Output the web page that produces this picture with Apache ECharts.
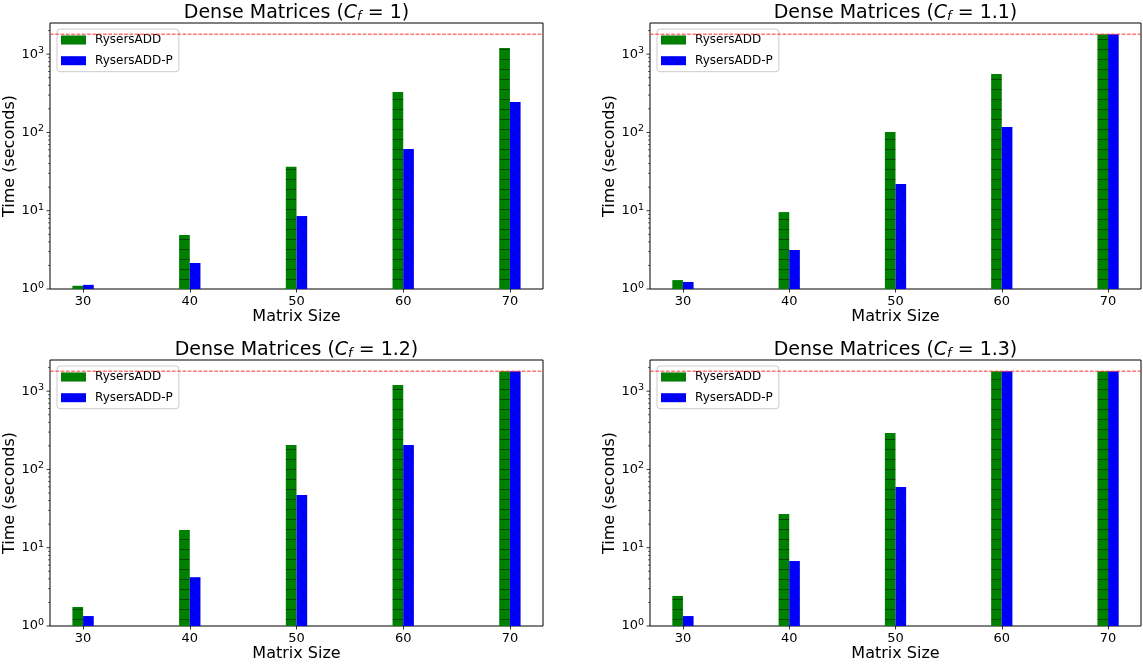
<!DOCTYPE html>
<html>
<head>
<meta charset="utf-8">
<script src="https://cdn.jsdelivr.net/npm/echarts@6/dist/echarts.min.js"></script>
<style>
html,body{margin:0;padding:0;background:#fff;}
#chart{width:1143px;height:665px;}
</style>
</head>
<body>
<div id="chart"></div>
<script>
// ---------------- data ----------------
const xLabels = ['30', '40', '50', '60', '70'];
const cfValues = ['1', '1.1', '1.2', '1.3'];
const seriesNames = ['RysersADD', 'RysersADD-P'];
const rysersAddCf1 = [1.1, 4.9, 36.5, 328, 1197];
const rysersAddPCf1 = [1.13, 2.15, 8.55, 61.4, 244];
const rysersAddCf11 = [1.3, 9.6, 101, 557, 1800];
const rysersAddPCf11 = [1.23, 3.15, 21.9, 117, 1800];
const rysersAddCf12 = [1.75, 16.8, 205, 1197, 1800];
const rysersAddPCf12 = [1.34, 4.2, 47, 205, 1800];
const rysersAddCf13 = [2.42, 26.9, 292, 1800, 1800];
const rysersAddPCf13 = [1.34, 6.76, 59.6, 1800, 1800];
const timeoutSeconds = 1800;
const majorTicks = [1, 10, 100, 1000];
const minorTicks = [2,3,4,5,6,7,8,9,20,30,40,50,60,70,80,90,200,300,400,500,600,700,800,900,2000];

const greenData = [rysersAddCf1, rysersAddCf11, rysersAddCf12, rysersAddCf13];
const blueData = [rysersAddPCf1, rysersAddPCf11, rysersAddPCf12, rysersAddPCf13];

// ---------------- layout / style ----------------
const FONT = 'DejaVu Sans';
const Y_MIN = 1, Y_MAX = 2500;
const X_MIN = -0.31, X_MAX = 4.31;
const panels = [
  {left: 50, top: 23, width: 493, height: 266},
  {left: 650, top: 23, width: 491, height: 266},
  {left: 50, top: 360, width: 493, height: 266},
  {left: 650, top: 360, width: 491, height: 266}
];

function makePattern(kind) {
  const c = document.createElement('canvas');
  const s = 10;
  c.width = s; c.height = s;
  const g = c.getContext('2d');
  if (kind === 'h') {
    g.fillStyle = '#008000';
    g.fillRect(0, 0, s, s);
    g.fillStyle = 'rgba(0,0,0,0.45)';
    g.fillRect(0, 9, s, 1);
  } else {
    g.fillStyle = '#0000ff';
    g.fillRect(0, 0, s, s);
    g.strokeStyle = 'rgba(0,0,40,0.4)';
    g.lineWidth = 0.9;
    g.beginPath();
    g.moveTo(-2, -2); g.lineTo(s + 2, s + 2);
    g.moveTo(-2 - s, -2); g.lineTo(2, s + 2);
    g.moveTo(s - 2, -2); g.lineTo(2 * s + 2, s + 2);
    g.stroke();
  }
  return {image: c, repeat: 'repeat'};
}
const greenPattern = makePattern('h');
const bluePattern = makePattern('d');

const grids = [], xAxes = [], yAxes = [], series = [], titles = [], legends = [];

const tickData = majorTicks.map(v => [X_MIN, v, 1]).concat(minorTicks.map(v => [X_MIN, v, 0]));

panels.forEach((p, i) => {
  const unit = p.width / (X_MAX - X_MIN);
  const innerLeft = p.left + (0 - X_MIN) * unit;
  const innerWidth = 4 * unit;
  grids.push({left: p.left, top: p.top, width: p.width, height: p.height, show: true,
    borderColor: '#000', borderWidth: 1, backgroundColor: 'transparent', containLabel: false});
  grids.push({left: innerLeft, top: p.top, width: innerWidth, height: p.height, show: false, containLabel: false});
  const gw = 2 * i, gn = 2 * i + 1;
  xAxes.push({type: 'value', gridIndex: gw, min: X_MIN, max: X_MAX,
    axisLine: {show: false}, axisTick: {show: false}, axisLabel: {show: false}, splitLine: {show: false},
    name: 'Matrix Size', nameLocation: 'middle', nameGap: 20,
    nameTextStyle: {fontFamily: FONT, fontSize: 16, color: '#000'}});
  xAxes.push({type: 'category', gridIndex: gn, data: xLabels, boundaryGap: false,
    axisLine: {show: false},
    axisTick: {show: true, inside: false, length: 3.5, lineStyle: {color: '#000', width: 0.8}},
    axisLabel: {fontFamily: FONT, fontSize: 13, color: '#000', margin: 6},
    splitLine: {show: false}});
  yAxes.push({type: 'log', logBase: 10, gridIndex: gw, min: Y_MIN, max: Y_MAX,
    axisLine: {show: false}, axisTick: {show: false}, splitLine: {show: false}, minorTick: {show: false},
    axisLabel: {margin: 6, fontFamily: FONT, color: '#000',
      formatter: v => {
        const l = Math.log10(v), e = Math.round(l);
        if (Math.abs(l - e) > 1e-6) return '';
        return '{b|10}{e|' + e + '}';
      },
      rich: {b: {fontFamily: FONT, fontSize: 13, color: '#000'},
             e: {fontFamily: FONT, fontSize: 9.5, color: '#000', padding: [0, 0, 7, 0]}}},
    name: 'Time (seconds)', nameLocation: 'middle', nameGap: 31,
    nameTextStyle: {fontFamily: FONT, fontSize: 16, color: '#000'}});
  yAxes.push({type: 'log', logBase: 10, gridIndex: gn, min: Y_MIN, max: Y_MAX, show: false,
    splitLine: {show: false}});

  series.push({name: seriesNames[0], type: 'bar', xAxisIndex: gn, yAxisIndex: gn,
    data: greenData[i], barWidth: '10%', barGap: '0%', itemStyle: {color: greenPattern}, z: 3});
  series.push({name: seriesNames[1], type: 'bar', xAxisIndex: gn, yAxisIndex: gn,
    data: blueData[i], barWidth: '10%', barGap: '0%', itemStyle: {color: bluePattern}, z: 3});
  series.push({type: 'line', xAxisIndex: gw, yAxisIndex: gw, silent: true, z: 5,
    data: [[X_MIN, timeoutSeconds], [X_MAX, timeoutSeconds]], showSymbol: false, symbol: 'none',
    color: '#ff0000', itemStyle: {color: '#ff0000'},
    lineStyle: {color: '#ff3030', width: 1, type: [3.7, 1.6]}});
  series.push({type: 'custom', xAxisIndex: gw, yAxisIndex: gw, data: tickData, silent: true,
    encode: {x: 0, y: 1}, clip: false, z: 4,
    renderItem: (params, api) => {
      const pt = api.coord([api.value(0), api.value(1)]);
      const major = api.value(2) === 1;
      const len = major ? 3.5 : 2;
      return {type: 'line', shape: {x1: pt[0] - len, y1: pt[1], x2: pt[0], y2: pt[1]},
        style: {stroke: '#000', lineWidth: major ? 0.8 : 0.6}};
    }});

  titles.push({text: '{n|Dense Matrices (}{i|C}{s|f}{n| = ' + cfValues[i] + ')}',
    left: p.left + p.width / 2, textAlign: 'center', top: p.top - 20, padding: 0,
    textStyle: {fontWeight: 'normal', rich: {
      n: {fontFamily: FONT, fontSize: 19, fontWeight: 'normal', color: '#000'},
      i: {fontFamily: FONT, fontSize: 19, fontWeight: 'normal', fontStyle: 'italic', color: '#000'},
      s: {fontFamily: FONT, fontSize: 13, fontWeight: 'normal', fontStyle: 'italic', color: '#000', padding: [7, 0, 0, 0]}
    }}});
  legends.push({left: p.left + 7, top: p.top + 6, orient: 'vertical', icon: 'rect',
    itemWidth: 25, itemHeight: 9, itemGap: 8.7, padding: [5, 6, 5, 4], selectedMode: false,
    backgroundColor: 'rgba(255,255,255,0.8)', borderColor: '#cccccc', borderWidth: 1, borderRadius: 3,
    textStyle: {fontFamily: FONT, fontSize: 12, color: '#000', padding: [0, 0, 0, 4]},
    data: seriesNames});
});

const chart = echarts.init(document.getElementById('chart'), null, {renderer: 'canvas'});
chart.setOption({
  animation: false,
  backgroundColor: '#fff',
  title: titles,
  legend: legends,
  grid: grids,
  xAxis: xAxes,
  yAxis: yAxes,
  series: series
});
</script>
</body>
</html>
